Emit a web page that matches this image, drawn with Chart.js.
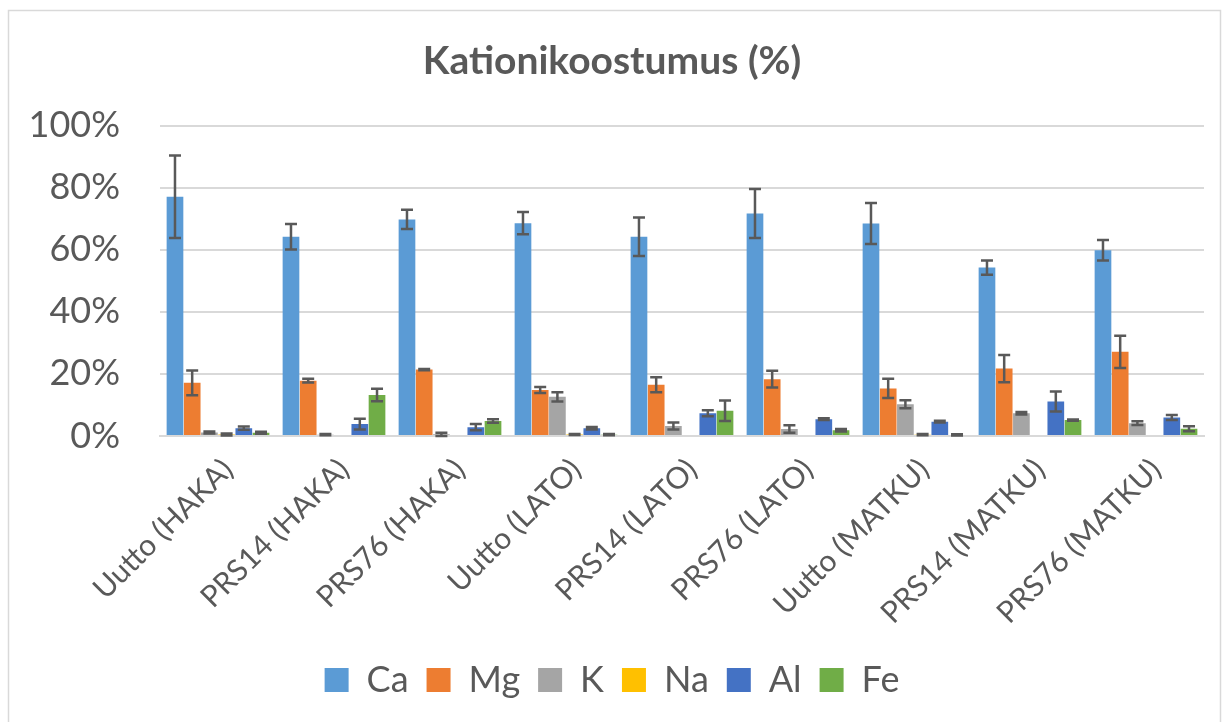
<!DOCTYPE html>
<html>
<head>
<meta charset="utf-8">
<script src="https://cdn.jsdelivr.net/npm/chart.js@4"></script>
<style>
  html, body { margin: 0; padding: 0; background: #fff; }
  #wrap { width: 1227px; height: 722px; }
</style>
</head>
<body>
<div id="wrap"><canvas id="chart" width="1227" height="722"></canvas></div>
<script>
// categories and series (values in %)
const categories = [
  "Uutto (HAKA)", "PRS14 (HAKA)", "PRS76 (HAKA)",
  "Uutto (LATO)", "PRS14 (LATO)", "PRS76 (LATO)",
  "Uutto (MATKU)", "PRS14 (MATKU)", "PRS76 (MATKU)"
];
const ca = [77.1, 64.2, 69.8, 68.6, 64.2, 71.7, 68.5, 54.3, 59.9];
const mg = [17.1, 17.8, 21.4, 14.8, 16.5, 18.3, 15.3, 21.7, 27.1];
const k  = [1.1, 0.4, 0.5, 12.6, 3.2, 2.2, 10.2, 7.3, 4.1];
const na = [0.45, 0, 0, 0.45, 0, 0, 0.4, 0, 0];
const al = [2.5, 3.8, 2.8, 2.5, 7.3, 5.4, 4.6, 11.1, 5.9];
const fe = [1.0, 13.2, 4.8, 0.4, 8.1, 1.85, 0.3, 5.1, 2.3];

// standard deviations (error bars)
const caErr = [13.3, 4.1, 3.1, 3.6, 6.2, 7.9, 6.6, 2.3, 3.3];
const mgErr = [4.0, 0.6, 0.2, 1.0, 2.4, 2.7, 3.1, 4.4, 5.2];
const kErr  = [0.3, 0.2, 0.5, 1.5, 1.1, 1.2, 1.3, 0.4, 0.6];
const naErr = [0.3, 0, 0, 0.2, 0, 0, 0.2, 0, 0];
const alErr = [0.5, 1.7, 1.0, 0.4, 1.0, 0.3, 0.3, 3.2, 0.8];
const feErr = [0.3, 2.0, 0.6, 0.2, 3.3, 0.4, 0.2, 0.2, 0.8];

const yTicks = [0, 20, 40, 60, 80, 100];

const textColor = "#595959";
const font = "Lato, 'Open Sans', sans-serif";

// draws the error bars from each dataset's errors array
const errorBars = {
  id: "errorBars",
  afterDatasetsDraw(chart) {
    const ctx = chart.ctx;
    const y = chart.scales.y;
    ctx.save();
    ctx.strokeStyle = "#595959";
    ctx.lineWidth = 2.5;
    chart.data.datasets.forEach((ds, i) => {
      const meta = chart.getDatasetMeta(i);
      meta.data.forEach((bar, j) => {
        const e = ds.errors[j];
        if (!e) return;
        const v = ds.data[j];
        const top = y.getPixelForValue(v + e);
        const bot = y.getPixelForValue(v - e);
        const cap = 6;
        ctx.beginPath();
        ctx.moveTo(bar.x, top);
        ctx.lineTo(bar.x, bot);
        ctx.moveTo(bar.x - cap, top);
        ctx.lineTo(bar.x + cap, top);
        ctx.moveTo(bar.x - cap, bot);
        ctx.lineTo(bar.x + cap, bot);
        ctx.stroke();
      });
    });
    ctx.restore();
  }
};

// light frame round the chart
const frame = {
  id: "frame",
  beforeDraw(chart) {
    const ctx = chart.ctx;
    ctx.save();
    ctx.strokeStyle = "#d9d9d9";
    ctx.lineWidth = 1.5;
    ctx.strokeRect(8.5, 10.5, 1212, 720);
    ctx.restore();
  }
};

const series = [
  { label: "Ca", data: ca, errors: caErr, color: "#5B9BD5" },
  { label: "Mg", data: mg, errors: mgErr, color: "#ED7D31" },
  { label: "K",  data: k,  errors: kErr,  color: "#A5A5A5" },
  { label: "Na", data: na, errors: naErr, color: "#FFC000" },
  { label: "Al", data: al, errors: alErr, color: "#4472C4" },
  { label: "Fe", data: fe, errors: feErr, color: "#70AD47" },
];

new Chart(document.getElementById("chart"), {
  type: "bar",
  data: {
    labels: categories,
    datasets: series.map((s) => ({
      label: s.label,
      data: s.data,
      errors: s.errors,
      backgroundColor: s.color,
      borderWidth: 0,
      categoryPercentage: 0.89,
      barPercentage: 0.97,
    })),
  },
  options: {
    responsive: false,
    animation: false,
    layout: { padding: { top: 12, left: 20, right: 23, bottom: 14 } },
    plugins: {
      title: {
        display: true,
        text: "Kationikoostumus (%)",
        color: textColor,
        font: { family: font, size: 39, weight: "bold" },
        padding: { top: 26, bottom: 41 },
      },
      legend: {
        position: "bottom",
        labels: {
          color: textColor,
          font: { family: font, size: 36 },
          boxWidth: 24,
          boxHeight: 24,
          padding: 18,
        },
      },
      tooltip: { enabled: false },
    },
    scales: {
      x: {
        grid: { display: false },
        border: { color: "#d9d9d9", width: 2 },
        afterFit: (scale) => {
          scale.paddingLeft = 0;
          scale.paddingRight = 0;
          scale.height += 5;
        },
        ticks: {
          color: textColor,
          font: { family: font, size: 30 },
          minRotation: 45,
          maxRotation: 45,
          padding: 8,
          labelOffset: 10,
        },
      },
      y: {
        min: 0,
        max: 100,
        afterBuildTicks: (scale) => {
          scale.ticks = yTicks.map((v) => ({ value: v }));
        },
        afterFit: (scale) => {
          scale.width = 140;
          scale.paddingTop = 0;
          scale.paddingBottom = 0;
        },
        grid: { color: "#d9d9d9", lineWidth: 2, drawTicks: false },
        border: { display: false },
        ticks: {
          color: textColor,
          font: { family: font, size: 36 },
          padding: 40,
          callback: (v) => v + "%",
        },
      },
    },
  },
  plugins: [errorBars, frame],
});
</script>
</body>
</html>
